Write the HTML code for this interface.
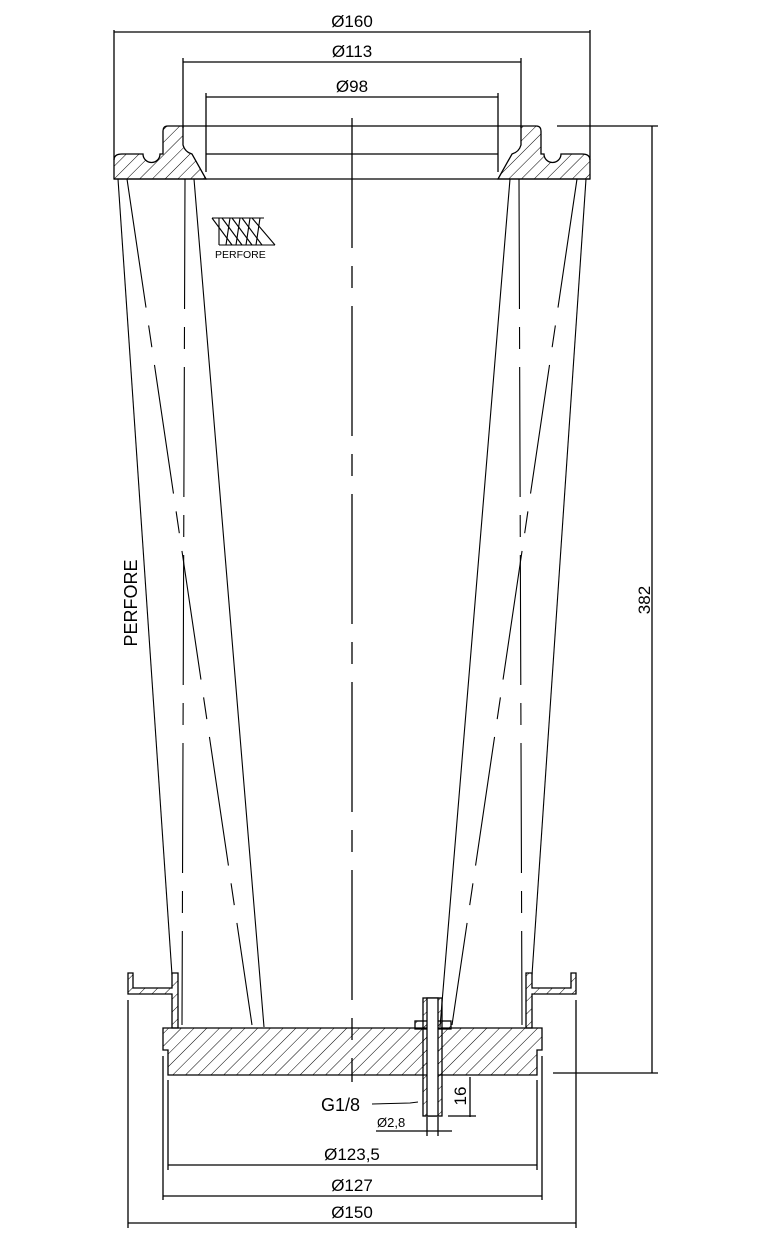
<!DOCTYPE html>
<html><head><meta charset="utf-8"><style>html,body{margin:0;padding:0;background:#fff}svg{display:block}text{font-family:"Liberation Sans",sans-serif;fill:#000}</style></head>
<body>
<svg width="765" height="1236" viewBox="0 0 765 1236" xmlns="http://www.w3.org/2000/svg">
<defs>
<pattern id="h" patternUnits="userSpaceOnUse" width="9" height="9" patternTransform="rotate(45)">
<line x1="0" y1="0" x2="0" y2="9" stroke="#000" stroke-width="1"/>
</pattern>
</defs>
<g stroke="#000" fill="none" stroke-width="1.3">
<line x1="114" y1="30" x2="114" y2="160"/><line x1="590" y1="30" x2="590" y2="160"/>
<line x1="114" y1="32" x2="590" y2="32"/>
<line x1="183" y1="58" x2="183" y2="128"/><line x1="521" y1="58" x2="521" y2="128"/>
<line x1="183" y1="62" x2="521" y2="62"/>
<line x1="206" y1="93" x2="206" y2="172"/><line x1="498" y1="93" x2="498" y2="172"/>
<line x1="206" y1="97" x2="498" y2="97"/>
<line x1="183" y1="126" x2="521" y2="126"/>
<line x1="206" y1="154" x2="498" y2="154"/>
<path d="M114,179 L114,160 Q114,154 122,154 L143,154 A8.5,8.5 0 0 0 160,154 L163,154 L163,131 Q163,126 168,126 L183,126 L183,145 Q185,152 192,154 L206,179 Z" fill="url(#h)"/>
<path d="M590,179 L590,160 Q590,154 582,154 L561,154 A8.5,8.5 0 0 1 544,154 L541,154 L541,131 Q541,126 536,126 L521,126 L521,145 Q519,152 512,154 L498,179 Z" fill="url(#h)"/>
<line x1="114" y1="179" x2="590" y2="179"/>
<line x1="557" y1="126" x2="658" y2="126"/>
<line x1="553" y1="1073" x2="658" y2="1073"/>
<line x1="652" y1="126" x2="652" y2="1073"/>
<line x1="352" y1="118" x2="352" y2="1082" stroke-dasharray="130 18 22 18"/>
</g>
<g stroke="#000" fill="none" stroke-width="1.1">
<line x1="118" y1="179" x2="172" y2="975"/>
<line x1="127" y1="179" x2="252" y2="1025" stroke-dasharray="130 18 22 18"/>
<line x1="185" y1="179" x2="182" y2="1025" stroke-dasharray="130 18 22 18"/>
<line x1="194" y1="179" x2="264" y2="1027"/>
<line x1="586" y1="179" x2="532" y2="975"/>
<line x1="577" y1="179" x2="452" y2="1025" stroke-dasharray="130 18 22 18"/>
<line x1="519" y1="179" x2="522" y2="1025" stroke-dasharray="130 18 22 18"/>
<line x1="510" y1="179" x2="440" y2="1027"/>
</g>
<g stroke="#000" stroke-width="1.3">
<path d="M128,973 L133,973 L133,988 L172,988 L172,973 L178,973 L178,1028 L172,1028 L172,994 L128,994 Z" fill="url(#h)"/>
<path d="M576,973 L571,973 L571,988 L532,988 L532,973 L526,973 L526,1028 L532,1028 L532,994 L576,994 Z" fill="url(#h)"/>
<path d="M163,1028 L542,1028 L542,1050 L537,1050 L537,1075 L168,1075 L168,1050 L163,1050 Z" fill="url(#h)"/>
<rect x="415" y="1021" width="36" height="8" fill="url(#h)"/>
<rect x="423" y="998" width="19" height="118" fill="url(#h)"/>
<rect x="427" y="998" width="11" height="118" fill="#fff"/>
</g>
<g stroke="#000" fill="none" stroke-width="1.3">
<line x1="128" y1="1000" x2="128" y2="1228"/><line x1="576" y1="1000" x2="576" y2="1228"/>
<line x1="128" y1="1223" x2="576" y2="1223"/>
<line x1="163" y1="1056" x2="163" y2="1200"/><line x1="542" y1="1056" x2="542" y2="1200"/>
<line x1="163" y1="1196" x2="542" y2="1196"/>
<line x1="168" y1="1080" x2="168" y2="1170"/><line x1="537" y1="1080" x2="537" y2="1170"/>
<line x1="168" y1="1165" x2="537" y2="1165"/>
<line x1="470" y1="1077" x2="470" y2="1117"/>
<line x1="448" y1="1116" x2="476" y2="1116"/>
<line x1="376" y1="1131" x2="452" y2="1131"/>
<line x1="427" y1="1117" x2="427" y2="1136"/><line x1="438" y1="1117" x2="438" y2="1136"/>
<path d="M372,1104 L410,1103 L418,1102" stroke-width="1"/>
</g>
<g font-size="17">
<text x="352" y="27" text-anchor="middle">Ø160</text>
<text x="352" y="57" text-anchor="middle">Ø113</text>
<text x="352" y="92" text-anchor="middle">Ø98</text>
<text x="352" y="1160" text-anchor="middle">Ø123,5</text>
<text x="352" y="1191" text-anchor="middle">Ø127</text>
<text x="352" y="1218" text-anchor="middle">Ø150</text>
<text x="321" y="1111" font-size="18">G1/8</text>
<text transform="translate(650,600) rotate(-90)" text-anchor="middle">382</text>
<text transform="translate(137,603) rotate(-90)" text-anchor="middle" font-size="18">PERFORE</text>
<text transform="translate(466,1096) rotate(-90)" text-anchor="middle">16</text>
</g>
<text x="377" y="1127" font-size="13">Ø2,8</text>
<g stroke="#000" stroke-width="1.1" fill="none">
<line x1="212" y1="218" x2="264" y2="218"/>
<line x1="219" y1="245" x2="275" y2="245"/>
<line x1="219" y1="218" x2="219" y2="245"/>
<line x1="212" y1="218" x2="232" y2="245"/>
<line x1="222" y1="218" x2="242" y2="245"/>
<line x1="232" y1="218" x2="252" y2="245"/>
<line x1="242" y1="218" x2="262" y2="245"/>
<line x1="252" y1="218" x2="275" y2="245"/>
<line x1="230" y1="218" x2="226" y2="245"/>
<line x1="240" y1="218" x2="236" y2="245"/>
<line x1="250" y1="218" x2="246" y2="245"/>
<line x1="260" y1="218" x2="256" y2="245"/>
</g>
<text x="215" y="258" font-size="10.5">PERFORE</text>
</svg>
</body></html>
